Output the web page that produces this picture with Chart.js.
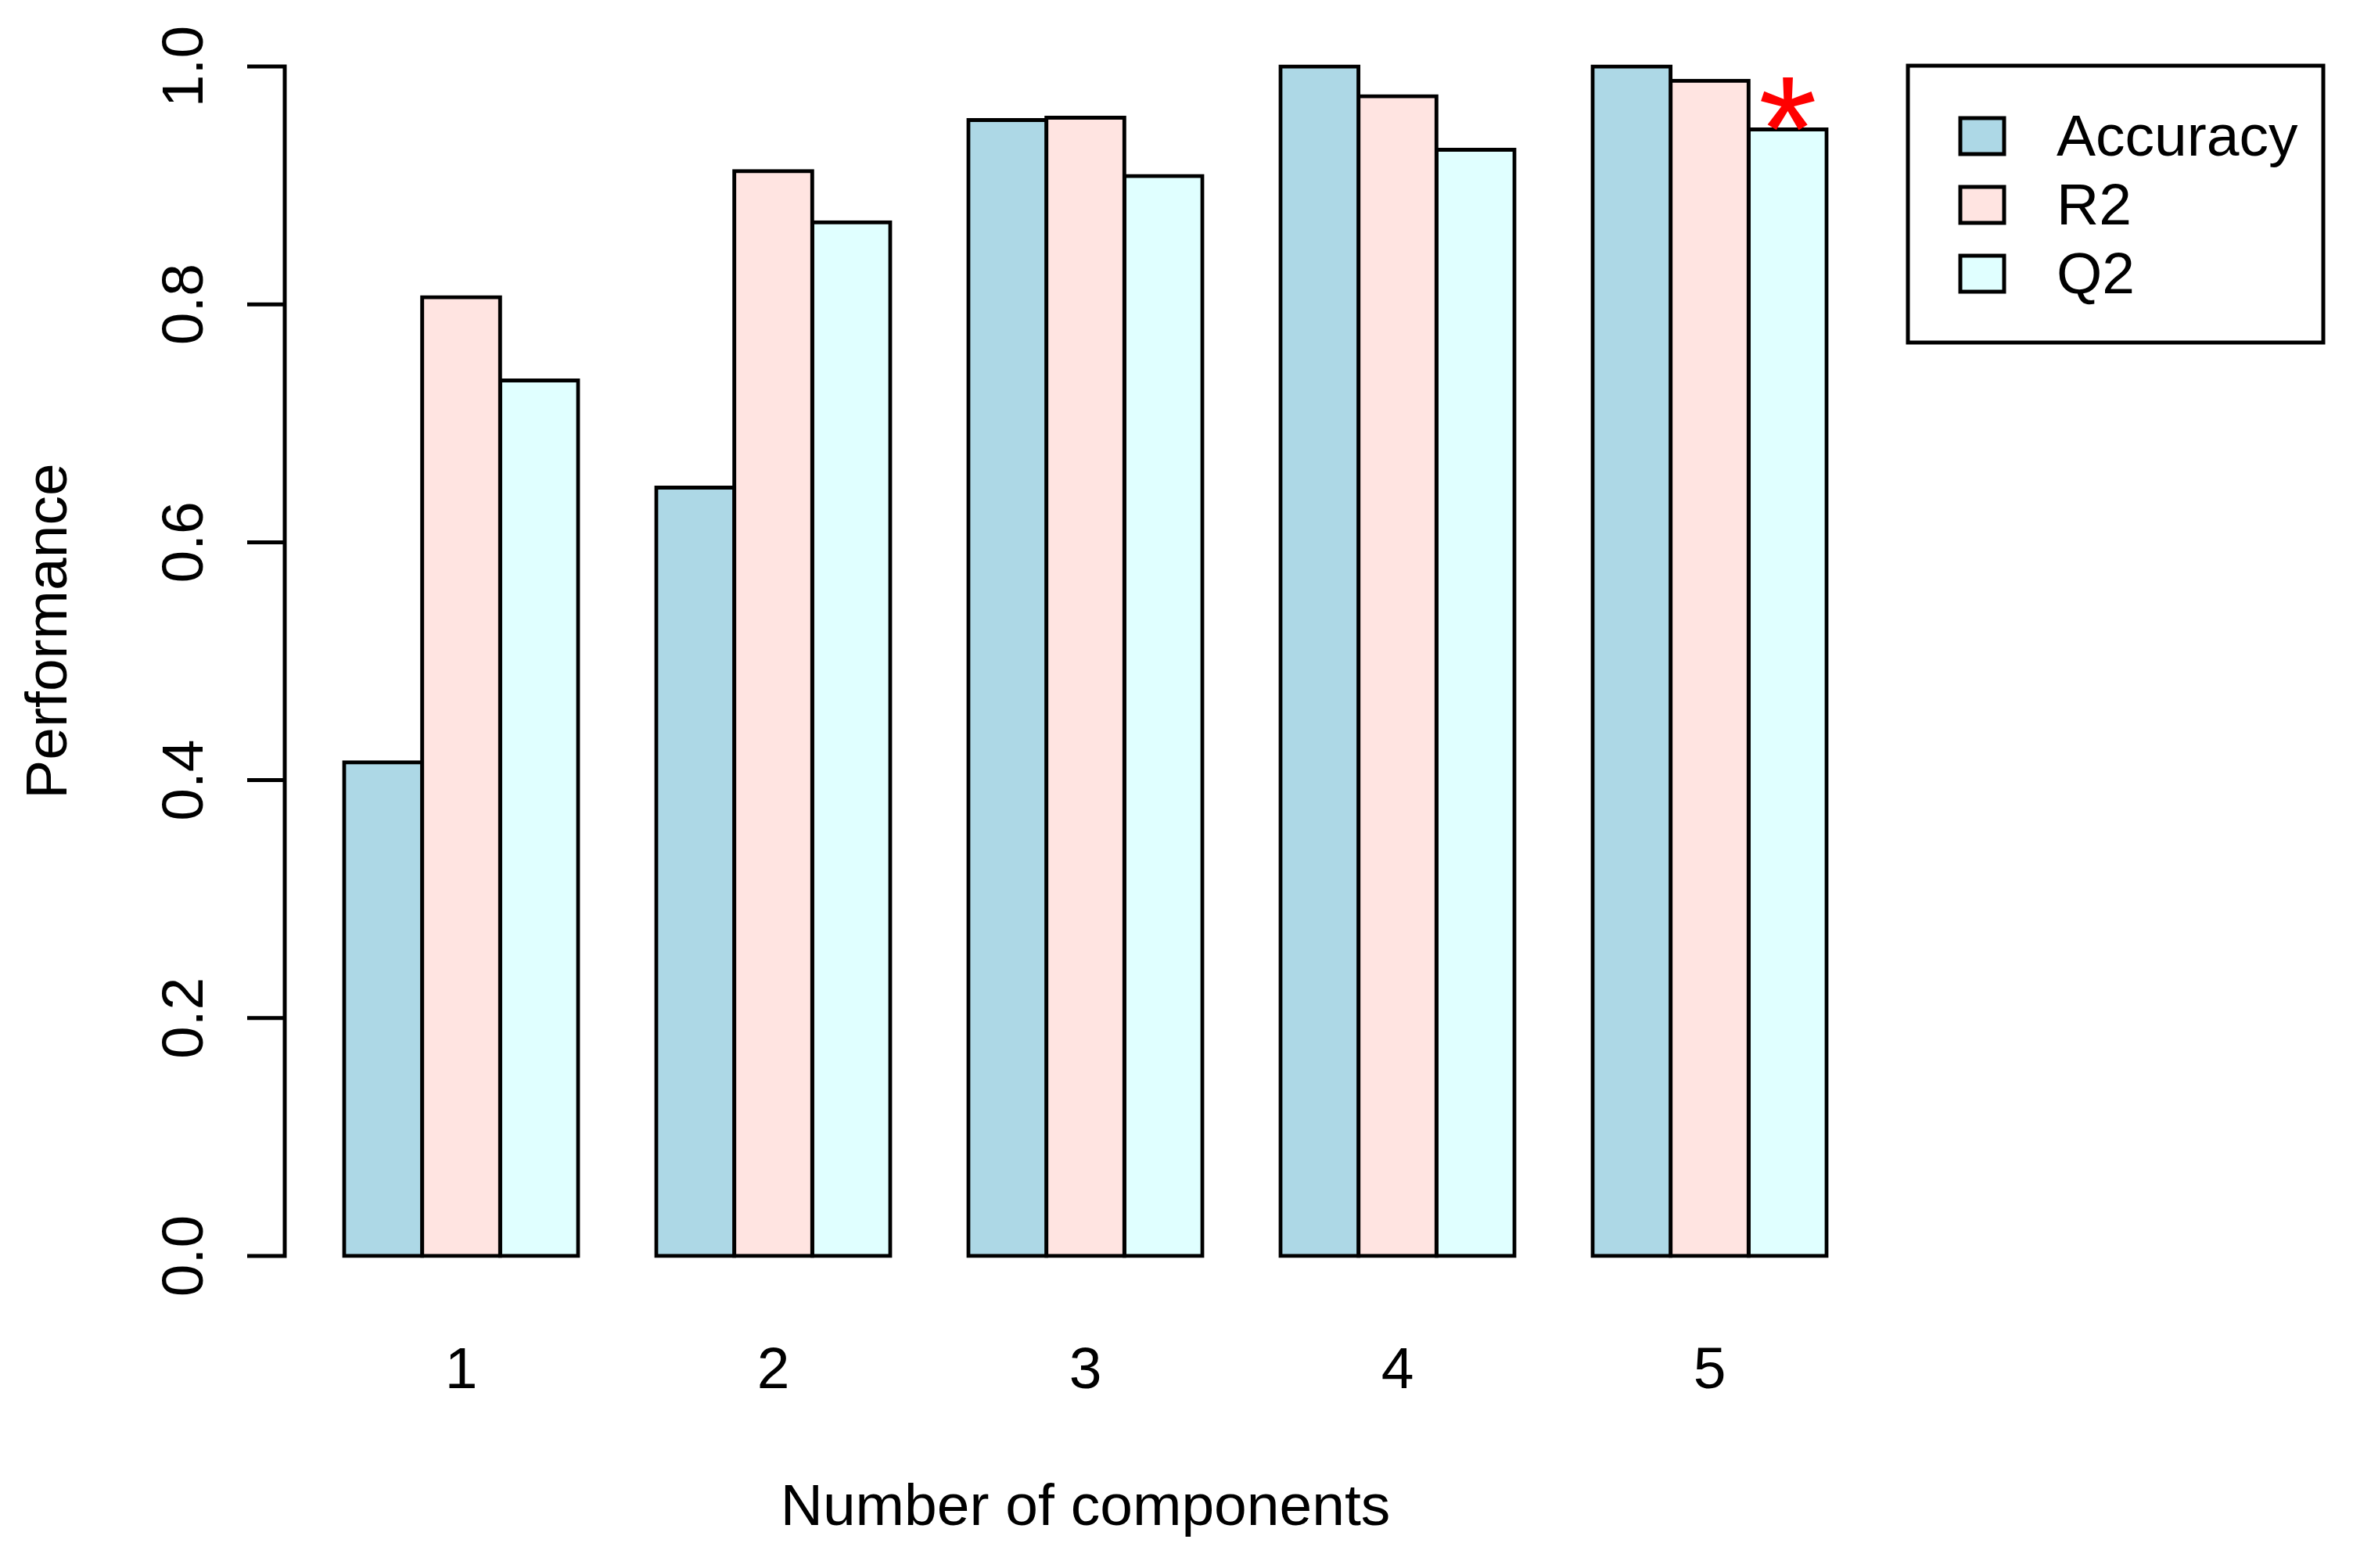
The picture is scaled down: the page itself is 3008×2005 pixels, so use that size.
<!DOCTYPE html>
<html>
<head>
<meta charset="utf-8">
<style>
    html, body { margin: 0; padding: 0; background: #fff; }
    #wrap { width: 3008px; height: 2005px; position: relative; }
</style>
<script src="https://cdn.jsdelivr.net/npm/chart.js@4/dist/chart.umd.min.js"></script>
</head>
<body>
<div id="wrap"><canvas id="perfChart"></canvas></div>
<script>
var components = ['1', '2', '3', '4', '5'];
var accuracy = [0.415, 0.646, 0.955, 1.000, 1.000];
var r2 = [0.806, 0.912, 0.957, 0.975, 0.988];
var q2 = [0.736, 0.869, 0.908, 0.930, 0.947];
var yTicks = [0, 0.2, 0.4, 0.6, 0.8, 1.0];
var seriesNames = ['Accuracy', 'R2', 'Q2'];
var seriesColors = ['#ADD8E6', '#FFE4E1', '#E0FFFF'];
var starSeries = 2;
var starIndex = 4;

(function () {
    var FONT = '"Liberation Sans", Arial, Helvetica, sans-serif';

    // R-style y axis, rotated tick labels, y title, boxed legend and the red star
    var rDecor = {
        id: 'rDecor',
        afterDraw: function (chart) {
            var ctx = chart.ctx;
            var y = chart.scales.y;
            var area = chart.chartArea;
            var axisX = area.left - 26;

            ctx.save();
            ctx.strokeStyle = '#000';
            ctx.lineWidth = 5;
            ctx.lineCap = 'butt';
            ctx.beginPath();
            ctx.moveTo(axisX, y.getPixelForValue(yTicks[0]) + 2.5);
            ctx.lineTo(axisX, y.getPixelForValue(yTicks[yTicks.length - 1]) - 2.5);
            yTicks.forEach(function (t) {
                var py = y.getPixelForValue(t);
                ctx.moveTo(axisX + 2.5, py);
                ctx.lineTo(axisX - 48, py);
            });
            ctx.stroke();

            ctx.fillStyle = '#000';
            ctx.font = '75px ' + FONT;
            ctx.textAlign = 'center';
            ctx.textBaseline = 'middle';
            yTicks.forEach(function (t) {
                ctx.save();
                ctx.translate(238, y.getPixelForValue(t));
                ctx.rotate(-Math.PI / 2);
                ctx.fillText(t.toFixed(1), 0, 0);
                ctx.restore();
            });

            ctx.save();
            ctx.translate(64, 807);
            ctx.rotate(-Math.PI / 2);
            ctx.fillText('Performance', 0, 0);
            ctx.restore();

            // legend
            ctx.lineWidth = 5;
            ctx.strokeRect(2439, 84, 531, 354);
            ctx.textAlign = 'left';
            var rows = [174, 262, 350];
            chart.data.datasets.forEach(function (ds, i) {
                ctx.fillStyle = ds.backgroundColor;
                ctx.fillRect(2506, rows[i] - 23, 56, 46);
                ctx.strokeRect(2506, rows[i] - 23, 56, 46);
                ctx.fillStyle = '#000';
                ctx.fillText(ds.label, 2629, rows[i] + 4);
            });

            // star above the chosen bar
            var bar = chart.getDatasetMeta(starSeries).data[starIndex];
            ctx.fillStyle = '#FF0000';
            ctx.font = '192px ' + FONT;
            ctx.textAlign = 'center';
            ctx.textBaseline = 'alphabetic';
            var m = ctx.measureText('*');
            ctx.fillText('*', bar.x, bar.y + 1 - m.actualBoundingBoxDescent);
            ctx.restore();
        }
    };

    function makeSet(i, values) {
        return {
            label: seriesNames[i],
            data: values,
            backgroundColor: seriesColors[i],
            borderColor: '#000',
            borderWidth: 5,
            borderSkipped: false,
            inflateAmount: 2.5,
            clip: false
        };
    }

    function initChart() {
        new Chart(document.getElementById('perfChart'), {
            type: 'bar',
            data: {
                labels: components,
                datasets: [makeSet(0, accuracy), makeSet(1, r2), makeSet(2, q2)]
            },
            options: {
                responsive: true,
                maintainAspectRatio: false,
                animation: false,
                devicePixelRatio: 1,
                barPercentage: 1,
                categoryPercentage: 0.75,
                layout: { padding: { left: 390, right: 623, top: 85, bottom: 0 } },
                plugins: {
                    legend: { display: false },
                    tooltip: { enabled: false }
                },
                scales: {
                    x: {
                        grid: { display: false, drawTicks: false },
                        border: { display: false },
                        afterFit: function (scale) { scale.height = 399; },
                        ticks: {
                            color: '#000',
                            padding: 103,
                            maxRotation: 0,
                            font: { family: FONT, size: 75 }
                        },
                        title: {
                            display: true,
                            text: 'Number of components',
                            color: '#000',
                            font: { family: FONT, size: 75 },
                            padding: { top: 90, bottom: 31 }
                        }
                    },
                    y: {
                        display: false,
                        min: 0,
                        max: 1
                    }
                }
            },
            plugins: [rDecor]
        });
    }

    if (document.readyState === 'loading') {
        document.addEventListener('DOMContentLoaded', initChart);
    } else {
        initChart();
    }
})();
</script>
</body>
</html>
